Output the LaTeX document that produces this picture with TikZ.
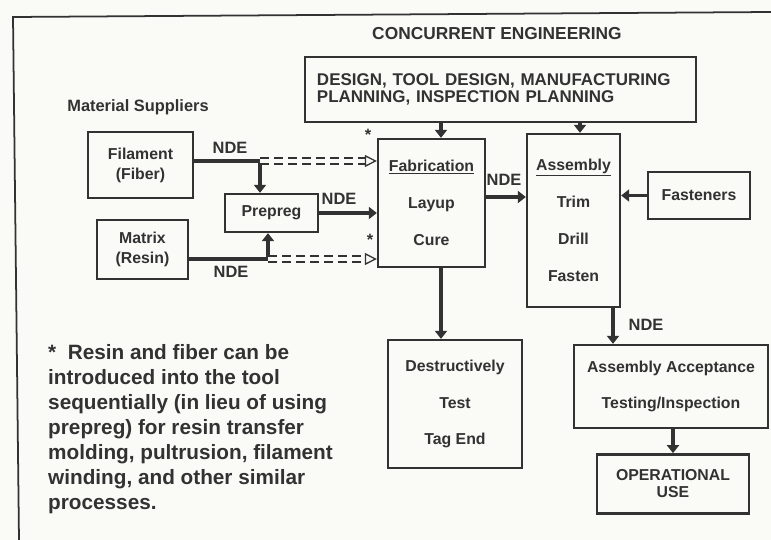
\documentclass[tikz,border=0pt]{standalone}
\usepackage{fontspec}
\setmainfont{Liberation Sans}
\usetikzlibrary{arrows.meta,positioning,calc}
\definecolor{inkGray}{RGB}{50,50,50}
\definecolor{paperWhite}{RGB}{250,250,247}
\tikzset{
  box/.style={draw=inkGray, line width=2pt, text=inkGray, align=center, inner sep=0pt,
              font=\bfseries\fontsize{13.5}{31.5}\selectfont},
  tightbox/.style={box, font=\bfseries\fontsize{13.5}{17}\selectfont},
  tag/.style={text=inkGray, inner sep=0pt, font=\bfseries\fontsize{14}{14}\selectfont},
  note/.style={tag, align=left, font=\bfseries\fontsize{17.7}{21.3}\selectfont},
  arrow/.style={-{Triangle[length=2.4mm,width=3.6mm]}, line width=3pt, draw=inkGray},
  feed/.style={line width=3pt, draw=inkGray},
  dasharrow/.style={-{Triangle[open,length=3.6mm,width=3.6mm]}, draw=inkGray, line width=1.1pt,
              double=paperWhite, double distance=4pt, dash pattern=on 2.8mm off 1.4mm}
}

\begin{document}
\begin{tikzpicture}[x=0.03cm, y=-0.03cm]
\fill[paperWhite] (0,0) rectangle (771,540);
\useasboundingbox (0,0) rectangle (771,540);
\draw[inkGray, line width=1.5pt] (771,12) -- (13,17) -- (19,540);

\node[tag, font=\bfseries\fontsize{14.8}{15}\selectfont] (title) at (497,34) {CONCURRENT ENGINEERING};
\node[box, align=left, text width=11.01cm, inner xsep=0.36cm, minimum height=1.95cm,
      font=\bfseries\fontsize{14.5}{15}\selectfont] (design) at (500.5,89.5)
  {DESIGN, TOOL DESIGN, MANUFACTURING\\PLANNING, INSPECTION PLANNING};
\node[tag] (suppliers) at (138,107) {Material Suppliers};

\node[tightbox, minimum width=3.15cm, minimum height=1.98cm] (filament) at (140.5,165) {Filament\\(Fiber)};
\node[tightbox, minimum width=2.73cm, minimum height=1.77cm] (matrix) at (142.5,249.5) {Matrix\\(Resin)};
\node[box, minimum width=2.79cm, minimum height=1.14cm] (prepreg) at (271.5,213) {Prepreg};
\node[box, minimum width=3.21cm, minimum height=3.84cm] (fab) at (431.5,203) {\underline{Fabrication}\\Layup\\Cure};
\node[box, minimum width=2.79cm, minimum height=5.19cm] (assembly) at (573.5,220.5) {\underline{Assembly}\\Trim\\Drill\\Fasten};
\node[box, minimum width=3.06cm, minimum height=1.41cm] (fasteners) at (699,195.5) {Fasteners};
\node[box, minimum width=4.02cm, minimum height=3.84cm] (destruct) at (455,404) {Destructively\\Test\\Tag End};
\node[box, minimum width=5.82cm, minimum height=2.49cm, font=\bfseries\fontsize{13.5}{30.6}\selectfont] (accept) at (671,386.5)
  {Assembly Acceptance\\Testing/Inspection};
\node[tightbox, minimum width=4.56cm, minimum height=1.77cm, below=0.72cm of accept, xshift=0.06cm,
      font=\bfseries\fontsize{13.5}{14.5}\selectfont] (operational) {OPERATIONAL\\USE};

\coordinate (fibsplit) at (260,161);
\coordinate (resinsplit) at (268,259);
\coordinate (fabtap) at (441,0);
\coordinate (asmtap) at (580,0);
\coordinate (asmout) at (613,0);
\coordinate (fabrow) at (0,197);

\draw[arrow] (fabtap |- design.south) -- (fabtap |- fab.north);
\draw[arrow] (asmtap |- design.south) -- (asmtap |- assembly.north);
\draw[feed] (filament.east |- fibsplit) -- (fibsplit);
\draw[arrow] (fibsplit) -- (fibsplit |- prepreg.north);
\draw[dasharrow] (fibsplit) -- (fibsplit -| fab.west);
\draw[feed] (matrix.east |- resinsplit) -- (resinsplit);
\draw[arrow] (resinsplit) -- (resinsplit |- prepreg.south);
\draw[dasharrow] (resinsplit) -- (resinsplit -| fab.west);
\draw[arrow] (prepreg.east) -- (prepreg.east -| fab.west);
\draw[arrow] (fab.east |- fabrow) -- (assembly.west |- fabrow);
\draw[arrow] (fasteners.west) -- (fasteners.west -| assembly.east);
\draw[arrow] (fabtap |- fab.south) -- (fabtap |- destruct.north);
\draw[arrow] (asmout |- assembly.south) -- (asmout |- accept.north);
\draw[arrow] (operational.north |- accept.south) -- (operational.north);

\node[tag] (ndeFiber) at (230,148) {NDE};
\node[tag] (ndeResin) at (231,272) {NDE};
\node[tag] (ndePrepreg) at (339,199) {NDE};
\node[tag] (ndeFab) at (504,180) {NDE};
\node[tag] (ndeAsm) at (646,325) {NDE};
\node[tag] (starFiber) at (368,135) {*};
\node[tag] (starResin) at (370,240) {*};

\node[note, anchor=north west] (footnote) at (48,344.5)
  {*\ \ Resin and fiber can be\\introduced into the tool\\sequentially (in lieu of using\\prepreg) for resin transfer\\molding, pultrusion, filament\\winding, and other similar\\processes.};
\end{tikzpicture}
\end{document}
